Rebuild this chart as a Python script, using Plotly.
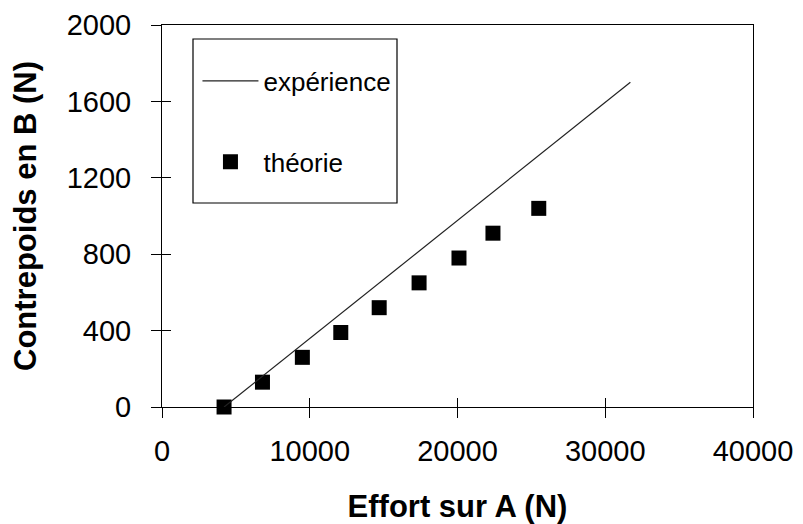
import plotly.graph_objects as go

# Data
exp_x = [4200, 31700]
exp_y = [0, 1700]
theo_x = [4200, 6800, 9500, 12100, 14700, 17400, 20100, 22400, 25500]
theo_y = [0, 130, 260, 390, 520, 650, 780, 910, 1040]
x_ticks = [0, 10000, 20000, 30000, 40000]
y_ticks = [0, 400, 800, 1200, 1600, 2000]

FONT = "Liberation Sans"

fig = go.Figure()
fig.add_trace(go.Scatter(
    x=exp_x, y=exp_y, mode="lines", name="expérience",
    line=dict(color="#222222", width=1.2), legendgroup="a",
    xaxis="x2", yaxis="y2", cliponaxis=False,
))
fig.add_trace(go.Scatter(
    x=theo_x, y=theo_y, mode="markers", name="théorie",
    marker=dict(symbol="square", size=15, color="black"), legendgroup="b",
    cliponaxis=False,
))

axis_common = dict(showgrid=False, zeroline=False, color="black", automargin=False)
# the page body adds an 8px offset, so the figure is 8px smaller with reduced left/top margins
fig.update_layout(
    width=795, height=516,
    margin=dict(l=154, r=50, t=17, b=117),
    paper_bgcolor="white", plot_bgcolor="white",
    font=dict(family=FONT, color="black"),
    showlegend=True,
    legend=dict(
        x=0.06, y=0.915, xanchor="left", yanchor="top",
        bgcolor="rgba(0,0,0,0)", borderwidth=0,
        font=dict(family=FONT, size=26, color="black"),
        tracegroupgap=44, itemwidth=56,
    ),
    xaxis=dict(
        range=[0, 40000], tickvals=x_ticks, ticktext=[str(v) for v in x_ticks],
        ticks="outside", ticklen=10, tickwidth=1, tickcolor="black",
        showline=True, linecolor="black", linewidth=1, mirror=True,
        tickfont=dict(family=FONT, size=29), ticklabelstandoff=8,
        title=dict(text="<b>Effort sur A (N)</b>", font=dict(family=FONT, size=31), standoff=31),
        **axis_common,
    ),
    yaxis=dict(
        range=[0, 2000], tickvals=y_ticks, ticktext=[str(v) for v in y_ticks],
        ticks="outside", ticklen=10, tickwidth=1, tickcolor="black",
        showline=True, linecolor="black", linewidth=1, mirror=True,
        tickfont=dict(family=FONT, size=29), ticklabelstandoff=14,
        title=dict(text="<b>Contrepoids en B (N)</b>", font=dict(family=FONT, size=31), standoff=20),
        **axis_common,
    ),
    xaxis2=dict(
        overlaying="x", matches="x", range=[0, 40000], tickvals=x_ticks,
        ticks="inside", ticklen=9, tickwidth=1, tickcolor="black",
        showticklabels=False, showline=False, side="bottom", anchor="y2",
        **axis_common,
    ),
    yaxis2=dict(
        overlaying="y", matches="y", range=[0, 2000], tickvals=y_ticks,
        ticks="inside", ticklen=9, tickwidth=1, tickcolor="black",
        showticklabels=False, showline=False, side="left", anchor="x2",
        **axis_common,
    ),
    shapes=[dict(
        type="rect", xref="paper", yref="paper",
        x0=(193 - 162) / 591, x1=(397 - 162) / 591,
        y0=(407 - 203) / 382, y1=(407 - 39) / 382,
        line=dict(color="black", width=1.2), fillcolor="rgba(0,0,0,0)",
    )],
)

fig.write_html("out.html")
